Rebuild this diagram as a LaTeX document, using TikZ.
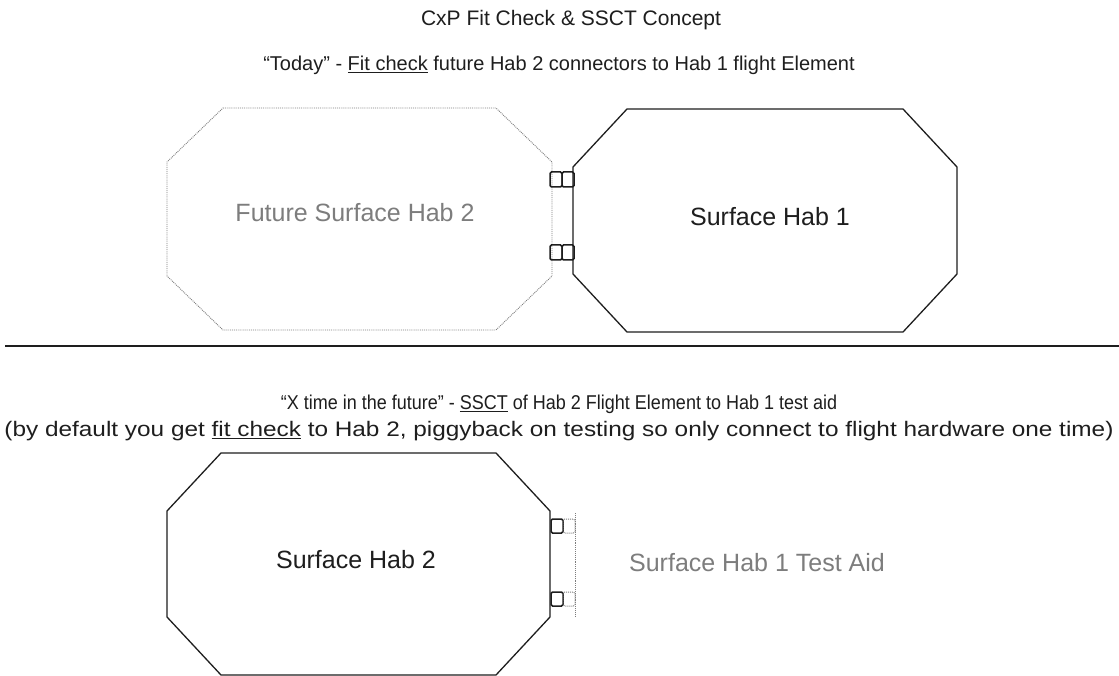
\documentclass[tikz,border=0pt]{standalone}
\usepackage{fontspec}
\setmainfont{Liberation Sans}
\usetikzlibrary{positioning}
\definecolor{HabInk}{RGB}{30,30,30}
\definecolor{HabGhost}{RGB}{125,125,125}

% octagon outline: style, left, top, right, bottom, chamfer x, chamfer y
\newcommand{\habOutline}[7]{%
  \draw[#1] (#2+#6,#3) -- (#4-#6,#3) -- (#4,#3+#7) -- (#4,#5-#7)
    -- (#4-#6,#5) -- (#2+#6,#5) -- (#2,#5-#7) -- (#2,#3+#7) -- cycle;}

\begin{document}
\begin{tikzpicture}[x=1pt,y=-1pt,
  hab/.style={HabInk,line width=1.3pt,line join=miter},
  ghosthab/.style={HabGhost,line width=0.9pt,densely dotted},
  plug/.style={HabInk,line width=1.5pt,rounded corners=1.5pt},
  ghostplug/.style={HabGhost,line width=1pt,densely dotted,rounded corners=1.5pt},
  head/.style={HabInk,inner sep=0pt,font=\fontsize{20pt}{24pt}\selectfont},
  lbl/.style={HabInk,inner sep=0pt,font=\fontsize{25pt}{29pt}\selectfont},
  ghostlbl/.style={lbl,HabGhost}]
  \useasboundingbox[fill=white] (0,0) rectangle (1119,676);

  % headings
  \node[head,font=\fontsize{21pt}{25pt}\selectfont] (title) at (571,20) {CxP Fit Check \& SSCT Concept};
  \node[head] (today) at (559,65) {“Today” - \underline{Fit check} future Hab 2 connectors to Hab 1 flight Element};

  % today: fit check
  \habOutline{ghosthab}{167}{108}{552}{330}{56}{54}
  \habOutline{hab}{573}{109}{957}{332}{54}{58}
  \foreach \cy in {172,245} {
    \draw[plug] (550,\cy) rectangle ++(12,15);
    \draw[plug] (562,\cy) rectangle ++(12,15);
  }
  \node[ghostlbl] (hab2future) at (355,213) {Future Surface Hab 2};
  \node[lbl] (hab1) at (770,217) {Surface Hab 1};

  % divider
  \draw[HabInk,line width=2pt] (5,346) -- (1119,346);

  % future: SSCT
  \node[head,xscale=0.9] (future) at (559,404) {“X time in the future” - \underline{SSCT} of Hab 2 Flight Element to Hab 1 test aid};
  \node[head,xscale=1.16,font=\fontsize{21pt}{25pt}\selectfont] (note) at (559,431) {(by default you get \underline{fit check} to Hab 2, piggyback on testing so only connect to flight hardware one time)};

  \habOutline{hab}{167}{453}{550}{675}{54}{58}
  \draw[ghosthab] (575,513) -- (575,617);
  \foreach \cy in {519,592} {
    \draw[plug] (551,\cy) rectangle ++(12,14);
    \draw[ghostplug] (563,\cy) rectangle ++(12,14);
  }
  \node[lbl] (hab2) at (356,560) {Surface Hab 2};
  \node[ghostlbl] (testaid) at (757,563) {Surface Hab 1 Test Aid};
\end{tikzpicture}
\end{document}
